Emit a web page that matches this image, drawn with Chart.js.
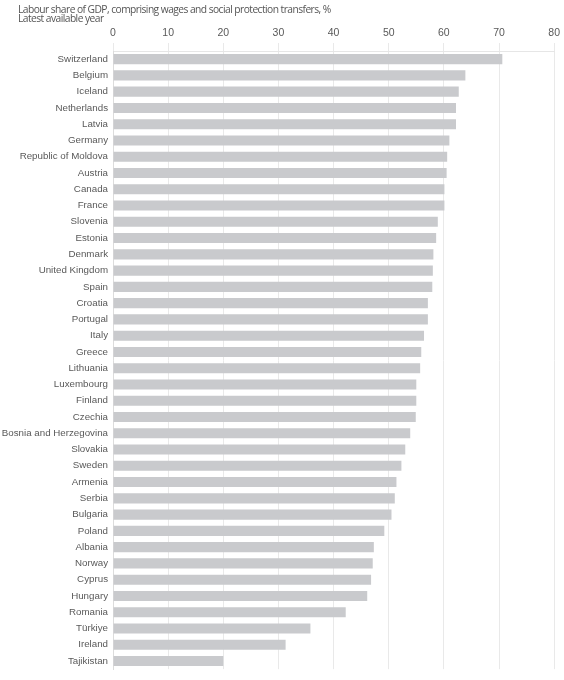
<!DOCTYPE html>
<html>
<head>
  <meta http-equiv="content-type" content="text/html; charset=utf-8"/>
  <script src="https://cdn.jsdelivr.net/npm/chart.js@4/dist/chart.umd.min.js"></script>
  <style>
    body { margin: 0; background: #fff; }
    #wrap { position: relative; width: 564px; height: 680px; }
    .ttl { position: absolute; left: 18px; font-family: "Open Sans", Arial, sans-serif; color: #555; font-size: 10.25px; letter-spacing: -0.55px; line-height: 11px; white-space: nowrap; }
  </style>
</head>
<body>
<div id="wrap">
  <canvas id="chart"></canvas>
  <div class="ttl" style="top:4px">Labour share of GDP, comprising wages and social protection transfers, %</div>
  <div class="ttl" style="top:13px">Latest available year</div>
</div>

<script>
    const countries = ['Switzerland', 'Belgium', 'Iceland', 'Netherlands', 'Latvia', 'Germany',
        'Republic of Moldova', 'Austria', 'Canada', 'France', 'Slovenia', 'Estonia', 'Denmark',
        'United Kingdom', 'Spain', 'Croatia', 'Portugal', 'Italy', 'Greece', 'Lithuania',
        'Luxembourg', 'Finland', 'Czechia', 'Bosnia and Herzegovina', 'Slovakia', 'Sweden',
        'Armenia', 'Serbia', 'Bulgaria', 'Poland', 'Albania', 'Norway', 'Cyprus', 'Hungary',
        'Romania', 'Türkiye', 'Ireland', 'Tajikistan'];
    const labourShare = [70.6, 63.9, 62.7, 62.2, 62.2, 61.0,
        60.6, 60.5, 60.1, 60.1, 58.9, 58.6, 58.1,
        58.0, 57.9, 57.1, 57.1, 56.4, 55.9, 55.7,
        55.0, 55.0, 54.9, 53.9, 53.0, 52.3,
        51.4, 51.1, 50.5, 49.2, 47.3, 47.1, 46.8, 46.1,
        42.2, 35.8, 31.3, 20.0];
    const xMin = 0, xMax = 80, xStep = 10;

    const grey = '#595959';

    new Chart(document.getElementById('chart'), {
        type: 'bar',
        data: {
            labels: countries,
            datasets: [{
                data: labourShare,
                backgroundColor: '#c9cacd',
                barPercentage: 0.62,
                categoryPercentage: 1
            }]
        },
        options: {
            indexAxis: 'y',
            responsive: true,
            maintainAspectRatio: false,
            animation: false,
            layout: { padding: { left: 0, right: 9, top: 0, bottom: 6 } },
            plugins: {
                legend: { display: false },
                tooltip: { enabled: false }
            },
            scales: {
                x: {
                    position: 'top',
                    min: xMin,
                    max: xMax,
                    ticks: {
                        stepSize: xStep,
                        color: grey,
                        padding: 4,
                        font: { family: 'Arial', size: 10.5 }
                    },
                    grid: { color: '#e9e9e9', tickLength: 8 },
                    border: { color: '#e6e6e6' },
                    afterFit(scale) { scale.height = 51; }
                },
                y: {
                    ticks: {
                        color: grey,
                        padding: 5,
                        autoSkip: false,
                        font: { family: 'Arial', size: 9.75 }
                    },
                    grid: { display: false, drawTicks: false },
                    border: { color: '#dcdcdc' },
                    afterFit(scale) { scale.width = 113; }
                }
            }
        }
    });
</script>
</body>
</html>
